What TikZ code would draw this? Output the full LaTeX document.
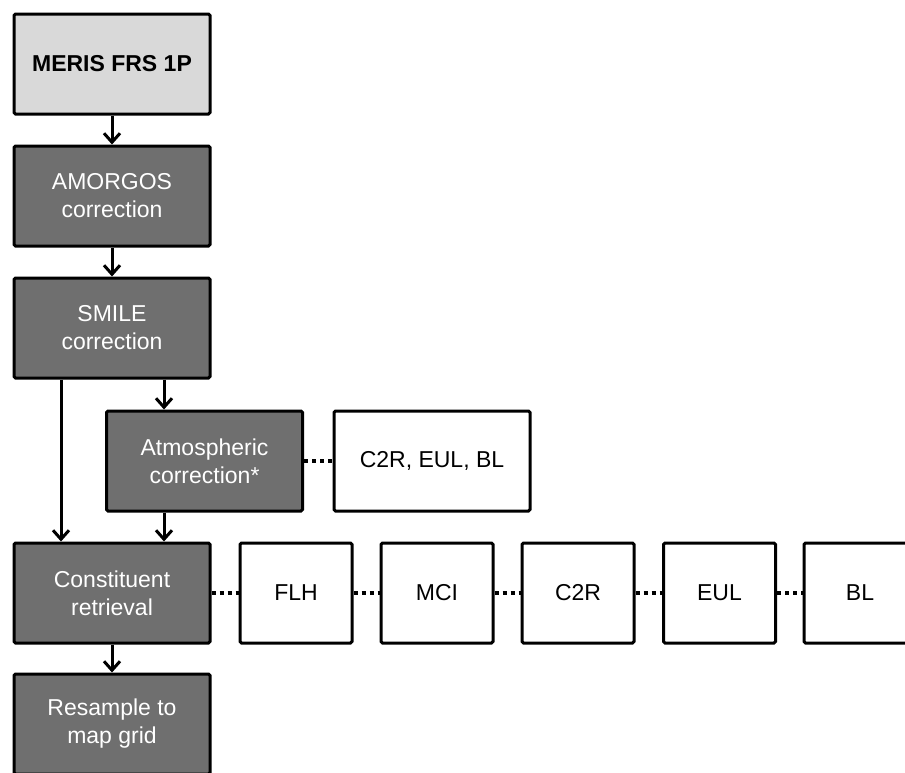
\documentclass[tikz,border=0pt]{standalone}
\usepackage{fontspec}
\setmainfont{Liberation Sans}
\usetikzlibrary{arrows.meta}
\definecolor{darkbox}{HTML}{6F6F6F}
\definecolor{lightbox}{HTML}{D9D9D9}
\begin{document}
\begin{tikzpicture}[x=1pt,y=-1pt,
  base/.style={draw=black,line width=3pt,rounded corners=1.5pt,inner sep=0pt,align=center,
    font=\fontsize{23}{28}\selectfont,minimum height=100pt},
  wide/.style={base,minimum width=196pt},
  darkstep/.style={wide,fill=darkbox,text=white},
  lightstep/.style={wide,fill=lightbox,font=\fontsize{23}{28}\selectfont\bfseries},
  whitebox/.style={base,fill=white,minimum width=112pt},
  arr/.style={line width=3pt,-{Straight Barb[length=9pt,width=16pt,line width=3pt]}},
  dots/.style={line width=3.5pt,dash pattern=on 4pt off 4pt}]
\useasboundingbox (0,0) rectangle (905,772);
\clip (0,0) rectangle (905,772);
\node[lightstep] (meris) at (112,64) {MERIS FRS 1P};
\node[darkstep] (amorgos) at (112,196) {AMORGOS\\correction};
\node[darkstep] (smile) at (112,328) {SMILE\\correction};
\node[darkstep] (atm) at (204.5,461) {Atmospheric\\correction*};
\node[whitebox,minimum width=196pt] (aclist) at (432,461) {C2R, EUL, BL};
\node[darkstep] (constit) at (112,593) {Constituent\\retrieval};
\node[whitebox] (flh) at (296,593) {FLH};
\node[whitebox] (mci) at (437,593) {MCI};
\node[whitebox] (c2r) at (578,593) {C2R};
\node[whitebox] (eul) at (719.5,593) {EUL};
\node[whitebox] (bl) at (860,593) {BL};
\node[darkstep] (resample) at (112,724) {Resample to\\map grid};
\draw[arr] (meris.south) -- (amorgos.north);
\draw[arr] (amorgos.south) -- (smile.north);
\draw[arr] ([xshift=-51pt]smile.south) -- ([xshift=-51pt]constit.north);
\draw[arr] ([xshift=52pt]smile.south) -- ([xshift=52pt]smile.south |- atm.north);
\draw[arr] ([xshift=52pt]smile.south |- atm.south) -- ([xshift=52pt]constit.north);
\draw[arr] (constit.south) -- (resample.north);
\draw[dots] (atm.east) -- (aclist.west);
\draw[dots] (constit.east) -- (flh.west);
\draw[dots] (flh.east) -- (mci.west);
\draw[dots] (mci.east) -- (c2r.west);
\draw[dots] (c2r.east) -- (eul.west);
\draw[dots] (eul.east) -- (bl.west);
\end{tikzpicture}
\end{document}
